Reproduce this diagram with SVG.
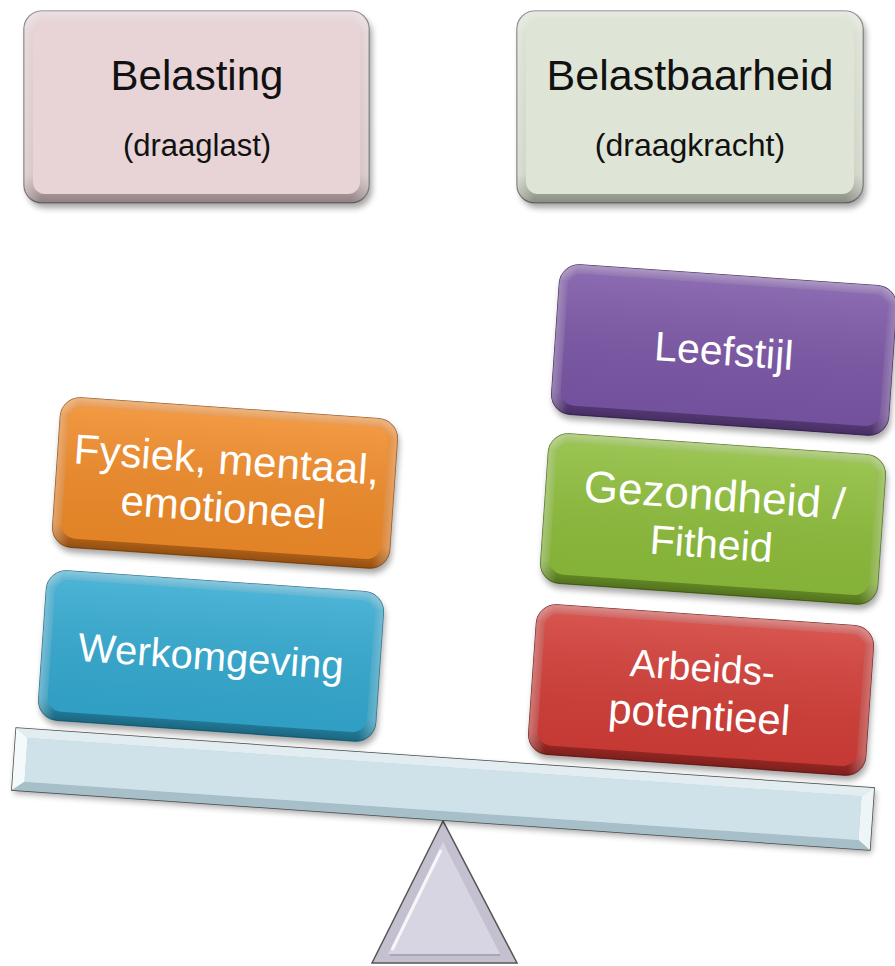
<svg xmlns="http://www.w3.org/2000/svg" width="895" height="966" viewBox="0 0 895 966">
<style>
.lbl{font-family:"Liberation Sans",Arial,sans-serif;text-anchor:middle}
.dark{fill:#111111}
.white{fill:#ffffff}
.sh{fill:#000000;opacity:0.35}
.bev{fill:url(#bevV)}
.bevh{fill:url(#bevH)}
.gloss{fill:url(#gloss)}
</style>
<defs>
<filter id="blur" x="-10%" y="-15%" width="120%" height="135%"><feGaussianBlur stdDeviation="3"/></filter>
<linearGradient id="bevV" x1="0" y1="0" x2="0" y2="1">
<stop offset="0" stop-color="#ffffff" stop-opacity="0.45"/>
<stop offset="0.12" stop-color="#ffffff" stop-opacity="0.05"/>
<stop offset="0.85" stop-color="#000000" stop-opacity="0.05"/>
<stop offset="1" stop-color="#000000" stop-opacity="0.35"/>
</linearGradient>
<linearGradient id="bevH" x1="0" y1="0" x2="1" y2="0">
<stop offset="0" stop-color="#ffffff" stop-opacity="0.35"/>
<stop offset="0.05" stop-color="#ffffff" stop-opacity="0"/>
<stop offset="0.95" stop-color="#ffffff" stop-opacity="0"/>
<stop offset="1" stop-color="#ffffff" stop-opacity="0.3"/>
</linearGradient>
<linearGradient id="gloss" x1="0" y1="0" x2="0" y2="1">
<stop offset="0" stop-color="#ffffff" stop-opacity="0.12"/>
<stop offset="1" stop-color="#000000" stop-opacity="0.06"/>
</linearGradient>
</defs>

<g id="connectors"/>

<g id="belasting">
<rect class="sh" x="27" y="16" width="345" height="192" rx="18" filter="url(#blur)"/>
<rect x="24" y="11" width="345" height="192" rx="18" fill="#dcc6c9" stroke="#6e6e6e" stroke-width="1.2"/>
<rect class="bev" x="24" y="11" width="345" height="192" rx="18"/>
<rect class="bevh" x="24" y="11" width="345" height="192" rx="18"/>
<rect x="33" y="20" width="327" height="174" rx="12" fill="#e8d4d7"/>
<text class="lbl dark" x="197" y="90" font-size="42">Belasting</text>
<text class="lbl dark" x="197" y="156" font-size="31">(draaglast)</text>
</g>

<g id="belastbaarheid">
<rect class="sh" x="520" y="16" width="346" height="192" rx="18" filter="url(#blur)"/>
<rect x="517" y="11" width="346" height="192" rx="18" fill="#d2d9c8" stroke="#6e6e6e" stroke-width="1.2"/>
<rect class="bev" x="517" y="11" width="346" height="192" rx="18"/>
<rect class="bevh" x="517" y="11" width="346" height="192" rx="18"/>
<rect x="526" y="20" width="328" height="174" rx="12" fill="#dfe5d6"/>
<text class="lbl dark" x="690" y="90" font-size="43">Belastbaarheid</text>
<text class="lbl dark" x="690" y="156" font-size="32">(draagkracht)</text>
</g>

<g id="fulcrum">
<polygon points="443,821 372,963 517,963" fill="#c4c0d0" stroke="#555555" stroke-width="1.5"/>
<polygon points="443,842 388,954 500,954" fill="#d8d5e2"/>
<polyline points="441,850 392,950" fill="none" stroke="#ffffff" stroke-width="3" opacity="0.8"/>
<polyline points="390,955 500,955" fill="none" stroke="#a9a5b6" stroke-width="2"/>
</g>

<g id="beam" transform="translate(443,789) rotate(4)">
<rect class="sh" x="-428" y="-28" width="860" height="62" filter="url(#blur)"/>
<rect x="-430" y="-31" width="860" height="62" fill="#b7ced7" stroke="#4a4a4a" stroke-width="1.5"/>
<polygon points="-430,-31 430,-31 418,-22 -418,-22" fill="#e2edf1"/>
<polygon points="-430,-31 -418,-22 -418,22 -430,31" fill="#f4f9fa"/>
<polygon points="430,-31 418,-22 418,22 430,31" fill="#eef5f7"/>
<polygon points="-430,31 -418,22 418,22 430,31" fill="#a6bfc9"/>
<rect x="-418" y="-22" width="836" height="44" fill="#d0e2e9"/>
</g>

<g id="werkomgeving" transform="translate(211,656) rotate(4)">
<rect class="sh" x="-167" y="-70" width="338" height="150" rx="20" filter="url(#blur)"/>
<rect x="-169" y="-75" width="338" height="150" rx="20" fill="#2a9cc3" stroke="#1f6f8b" stroke-width="1"/>
<rect class="bev" x="-169" y="-75" width="338" height="150" rx="20"/>
<rect class="bevh" x="-169" y="-75" width="338" height="150" rx="20"/>
<rect x="-160" y="-66" width="320" height="132" rx="14" fill="#33a9d0"/>
<rect class="gloss" x="-160" y="-66" width="320" height="132" rx="14"/>
<text class="lbl white" x="0" y="14" font-size="40">Werkomgeving</text>
</g>

<g id="fysiek" transform="translate(225,483) rotate(4)">
<rect class="sh" x="-167" y="-70" width="338" height="150" rx="20" filter="url(#blur)"/>
<rect x="-169" y="-75" width="338" height="150" rx="20" fill="#e07a1c" stroke="#9a5210" stroke-width="1"/>
<rect class="bev" x="-169" y="-75" width="338" height="150" rx="20"/>
<rect class="bevh" x="-169" y="-75" width="338" height="150" rx="20"/>
<rect x="-160" y="-66" width="320" height="132" rx="14" fill="#f08b29"/>
<rect class="gloss" x="-160" y="-66" width="320" height="132" rx="14"/>
<text class="lbl white" x="0" y="-9" font-size="42">Fysiek, mentaal,</text>
<text class="lbl white" x="0" y="39" font-size="42">emotioneel</text>
</g>

<g id="arbeidspotentieel" transform="translate(701,690) rotate(4)">
<rect class="sh" x="-167" y="-70" width="338" height="150" rx="20" filter="url(#blur)"/>
<rect x="-169" y="-75" width="338" height="150" rx="20" fill="#bf312c" stroke="#7a1e1b" stroke-width="1"/>
<rect class="bev" x="-169" y="-75" width="338" height="150" rx="20"/>
<rect class="bevh" x="-169" y="-75" width="338" height="150" rx="20"/>
<rect x="-160" y="-66" width="320" height="132" rx="14" fill="#d23d37"/>
<rect class="gloss" x="-160" y="-66" width="320" height="132" rx="14"/>
<text class="lbl white" x="0" y="-9" font-size="39">Arbeids-</text>
<text class="lbl white" x="0" y="39" font-size="42">potentieel</text>
</g>

<g id="gezondheid" transform="translate(713,519) rotate(4)">
<rect class="sh" x="-167" y="-70" width="338" height="150" rx="20" filter="url(#blur)"/>
<rect x="-169" y="-75" width="338" height="150" rx="20" fill="#7eae2e" stroke="#4f7018" stroke-width="1"/>
<rect class="bev" x="-169" y="-75" width="338" height="150" rx="20"/>
<rect class="bevh" x="-169" y="-75" width="338" height="150" rx="20"/>
<rect x="-160" y="-66" width="320" height="132" rx="14" fill="#8dbd3b"/>
<rect class="gloss" x="-160" y="-66" width="320" height="132" rx="14"/>
<text class="lbl white" x="0" y="-9" font-size="44">Gezondheid /</text>
<text class="lbl white" x="0" y="39" font-size="41">Fitheid</text>
</g>

<g id="leefstijl" transform="translate(724,350) rotate(4)">
<rect class="sh" x="-167" y="-70" width="338" height="150" rx="20" filter="url(#blur)"/>
<rect x="-169" y="-75" width="338" height="150" rx="20" fill="#6c4796" stroke="#44295f" stroke-width="1"/>
<rect class="bev" x="-169" y="-75" width="338" height="150" rx="20"/>
<rect class="bevh" x="-169" y="-75" width="338" height="150" rx="20"/>
<rect x="-160" y="-66" width="320" height="132" rx="14" fill="#7b56a6"/>
<rect class="gloss" x="-160" y="-66" width="320" height="132" rx="14"/>
<text class="lbl white" x="0" y="15" font-size="41">Leefstijl</text>
</g>
</svg>
